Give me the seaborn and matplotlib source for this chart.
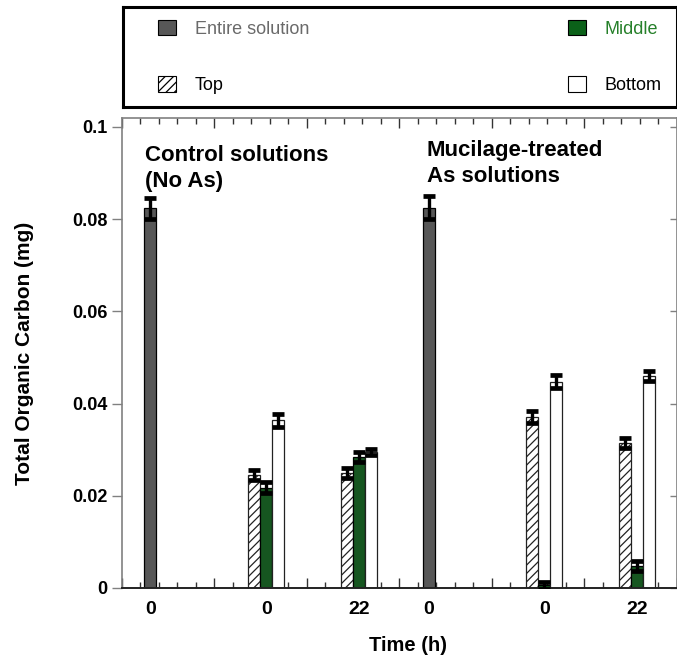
import numpy as np
import pandas as pd
import matplotlib
matplotlib.use("Agg")
import matplotlib.pyplot as plt
from matplotlib.patches import Patch
from matplotlib.ticker import MultipleLocator
import seaborn as sns

# ---- data -------------------------------------------------------------
series_names = ["Entire solution", "Top", "Middle", "Bottom"]
time_labels = ["0", "0", "22", "0", "0", "22"]
panel_titles = ["Control solutions\n(No As)", "Mucilage-treated\nAs solutions"]

# whole-solution TOC (control, mucilage-treated)
entire_mean = [0.0824, 0.0825]
entire_err = [0.0023, 0.0025]

# layered TOC: control 0 h, control 22 h, mucilage 0 h, mucilage 22 h
top_mean = [0.0245, 0.0249, 0.0371, 0.0315]
top_err = [0.0010, 0.0011, 0.0014, 0.0011]
middle_mean = [0.0217, 0.0284, 0.0006, 0.0048]
middle_err = [0.0012, 0.0010, 0.0008, 0.0011]
bottom_mean = [0.0364, 0.0295, 0.0447, 0.0460]
bottom_err = [0.0014, 0.0007, 0.0014, 0.0010]

# ---- layout -----------------------------------------------------------
entire_pos = [1.55, 16.6]
layer_pos = [7.82, 12.82, 22.85, 27.87]
tick_pos = [1.55, 7.82, 12.82, 16.6, 22.85, 27.87]
step = 0.65  # distance between neighbouring bars inside a group
offsets = {"Top": -step, "Middle": 0.0, "Bottom": step}

rows = []
for p, m, e in zip(entire_pos, entire_mean, entire_err):
    rows.append(dict(x=p, value=m, err=e, series="Entire solution"))
for name, means, errs in [("Top", top_mean, top_err),
                          ("Middle", middle_mean, middle_err),
                          ("Bottom", bottom_mean, bottom_err)]:
    for p, m, e in zip(layer_pos, means, errs):
        rows.append(dict(x=round(p + offsets[name], 4), value=m, err=e, series=name))
df = pd.DataFrame(rows)

colors = {"Entire solution": "#575757", "Top": "#ffffff",
          "Middle": "#0b6119", "Bottom": "#ffffff"}

sns.set_theme(style="ticks")
plt.rcParams["font.family"] = ["Liberation Sans", "DejaVu Sans"]
plt.rcParams["text.color"] = "black"
plt.rcParams["axes.labelcolor"] = "black"
plt.rcParams["xtick.labelcolor"] = "black"
plt.rcParams["ytick.labelcolor"] = "black"
plt.rcParams["hatch.linewidth"] = 0.9
plt.rcParams["hatch.color"] = "black"

W, H = 677, 664
fig = plt.figure(figsize=(W / 100, H / 100), dpi=100)
ax = fig.add_axes([121.5 / W, 1 - 588 / H, 555 / W, 470 / H])

sns.barplot(data=df, x="x", y="value", hue="series", hue_order=series_names,
            palette=colors, native_scale=True, dodge=False, width=1.0,
            errorbar=None, edgecolor="black", linewidth=0.9,
            legend=False, ax=ax, zorder=2)

for name, cont in zip(series_names, ax.containers):
    for patch in cont:
        if name == "Top":
            patch.set_hatch("////")
        if name in ("Top", "Bottom"):
            patch.set_edgecolor("#222222")

ax.errorbar(df["x"], df["value"], yerr=df["err"], fmt="none", ecolor="black",
            elinewidth=2.4, capsize=4.2, capthick=3.4, zorder=4)

# ---- axes -------------------------------------------------------------
ax.set_xlim(0, 30)
ax.set_ylim(0, 0.10195)
ax.set_yticks([0, 0.02, 0.04, 0.06, 0.08, 0.1])
ax.set_yticklabels(["0", "0.02", "0.04", "0.06", "0.08", "0.1"],
                   fontsize=13, fontweight="bold")
ax.tick_params(axis="y", direction="out", length=7, width=1, color="#808080",
               right=False, pad=3)
ax.set_xticks(tick_pos)
ax.set_xticklabels(time_labels, fontsize=14, fontweight="bold")
ax.tick_params(axis="x", length=0, pad=9)

for side in ("left", "top", "right"):
    ax.spines[side].set_color("#808080")
    ax.spines[side].set_linewidth(1.2)
ax.spines["bottom"].set_color("#222222")
ax.spines["bottom"].set_linewidth(1.4)

# inward tick marks along the bottom and top edges
for loc in ("bottom", "top"):
    sec = ax.secondary_xaxis(loc)
    sec.set_xticks(np.arange(0, 31, 5))
    sec.xaxis.set_minor_locator(MultipleLocator(1))
    sec.tick_params(which="major", direction="in", length=7, width=1,
                    color="#333333", labelbottom=False, labeltop=False)
    sec.tick_params(which="minor", direction="in", length=4, width=1,
                    color="#333333")
    sec.spines[loc].set_visible(False)

# inward ticks on the right edge
sec_r = ax.secondary_yaxis("right")
sec_r.set_yticks([0, 0.02, 0.04, 0.06, 0.08, 0.1])
sec_r.tick_params(direction="in", length=5, width=1, color="#808080",
                  labelright=False)
sec_r.spines["right"].set_visible(False)

ax.set_ylabel("Total Organic Carbon (mg)", fontsize=15, fontweight="bold")
ax.yaxis.set_label_coords(-0.158, 0.5)
ax.set_xlabel("Time (h)", fontsize=14.5, fontweight="bold")
ax.xaxis.set_label_coords(0.516, -0.103)

ax.text(1.27, 0.0962, panel_titles[0], fontsize=16, fontweight="bold",
        va="top", ha="left", linespacing=1.35)
ax.text(16.5, 0.0972, panel_titles[1], fontsize=16, fontweight="bold",
        va="top", ha="left", linespacing=1.3)

# ---- legend box -------------------------------------------------------
lax = fig.add_axes([123 / W, 1 - 107 / H, 554 / W, 100 / H])
lax.set_xticks([])
lax.set_yticks([])
lax.set_facecolor("white")
for s in lax.spines.values():
    s.set_color("black")
    s.set_linewidth(2.2)

handles = [
    Patch(facecolor=colors["Entire solution"], edgecolor="black", linewidth=0.8),
    Patch(facecolor="white", edgecolor="black", hatch="////", linewidth=0.8),
    Patch(facecolor=colors["Middle"], edgecolor="black", linewidth=0.8),
    Patch(facecolor="white", edgecolor="black", linewidth=0.8),
]
labels = ["Entire solution", "Top", "Middle", "Bottom"]
leg = lax.legend(handles, labels, ncol=2, mode="expand", frameon=False,
                 loc="center", bbox_to_anchor=(30 / 554, 0.0, 514 / 554, 1.0),
                 fontsize=13, handlelength=0.95, handleheight=0.95,
                 handletextpad=1.05, labelspacing=2.15, borderpad=0.3,
                 borderaxespad=0)
text_colors = ["#6a6a6a", "black", "#26802a", "black"]
for t, c in zip(leg.get_texts(), text_colors):
    t.set_color(c)

fig.savefig("out.png", dpi=100)
